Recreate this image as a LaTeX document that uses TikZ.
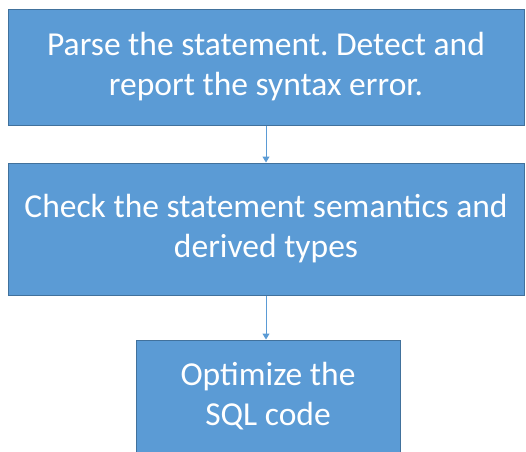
\documentclass[tikz,border=0pt]{standalone}
\usepackage{fontspec}
\setmainfont{Carlito}
\usetikzlibrary{arrows.meta}
\definecolor{boxblue}{HTML}{5B9BD5}
\definecolor{boxline}{HTML}{41719C}
\tikzset{
  stepbox/.style={draw=boxline, line width=1pt, fill=boxblue, text=white,
    align=center, font=\fontsize{33.5}{40}\selectfont\frenchspacing, inner sep=0pt},
  flow/.style={draw=boxblue, line width=1pt, -{Triangle[width=7pt,length=6pt]}}
}
\begin{document}
\begin{tikzpicture}[x=1pt,y=1pt]
\useasboundingbox (0,0) rectangle (526,-451);
\node[stepbox, minimum width=516pt, minimum height=116pt] (parse) at (266,-67)
  {Parse the statement. Detect and\\report the syntax error.};
\node[stepbox, minimum width=516pt, minimum height=132pt] (check) at (266,-229)
  {Check the statement semantics and\\derived types};
\node[stepbox, minimum width=264pt, minimum height=112pt] (optim) at (268,-396)
  {Optimize the\\SQL code};
\path[flow] (parse.south) -- (check.north);
\path[flow] (check.south) -- (check.south |- optim.north);
\end{tikzpicture}
\end{document}
